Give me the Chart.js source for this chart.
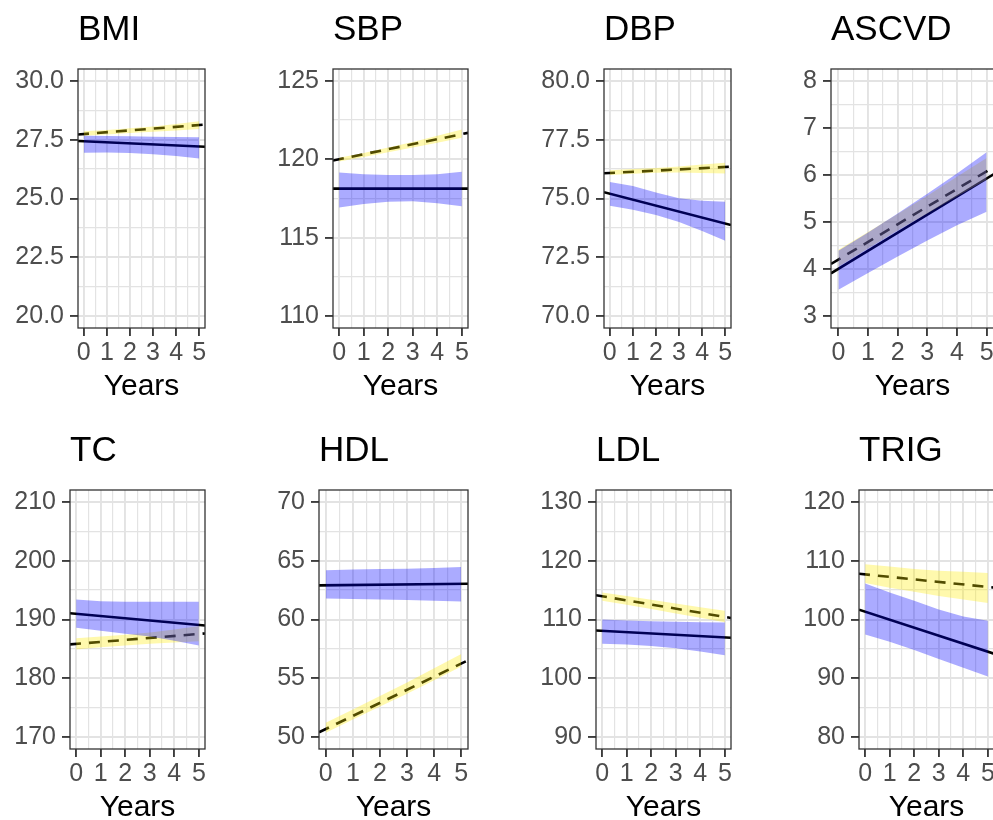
<!DOCTYPE html>
<html>
<head>
<meta charset="utf-8">
<script src="https://cdn.jsdelivr.net/npm/chart.js@4.4.0/dist/chart.umd.min.js"></script>
<style>
  html, body { margin:0; padding:0; background:#fff; }
  #wrap { position:relative; width:993px; height:820px; overflow:hidden; background:#fff; }
  #wrap canvas { position:absolute; }
</style>
</head>
<body>
<div id="wrap"></div>
<script>
// ------------------------------------------------------------
// Data
// ------------------------------------------------------------
const years     = [0, 1, 2, 3, 4, 5];
const xTicks    = [0, 1, 2, 3, 4, 5];
const edgeYears = [-0.25, 5.25];   // fitted lines run edge to edge of the panel

const bmiTicks    = [20, 22.5, 25, 27.5, 30];
const bmiSolid    = [27.44, 27.20];
const bmiDashed   = [27.72, 28.14];
const bmiBlueHi   = [27.66, 27.65, 27.64, 27.62, 27.61, 27.60];
const bmiBlueLo   = [26.94, 26.95, 26.93, 26.88, 26.80, 26.70];
const bmiYellowHi = [27.86, 27.91, 27.98, 28.06, 28.16, 28.28];
const bmiYellowLo = [27.66, 27.72, 27.78, 27.84, 27.89, 27.95];

const sbpTicks    = [110, 115, 120, 125];
const sbpSolid    = [118.13, 118.13];
const sbpDashed   = [119.92, 121.68];
const sbpBlueHi   = [119.15, 119.05, 119.0, 119.0, 119.05, 119.2];
const sbpBlueLo   = [116.93, 117.15, 117.3, 117.32, 117.2, 117.0];
const sbpYellowHi = [120.1, 120.4, 120.75, 121.1, 121.5, 121.9];
const sbpYellowLo = [119.85, 120.15, 120.45, 120.75, 121.05, 121.37];

const dbpTicks    = [70, 72.5, 75, 77.5, 80];
const dbpSolid    = [75.27, 73.87];
const dbpDashed   = [76.07, 76.35];
const dbpBlueHi   = [75.70, 75.53, 75.25, 75.01, 74.90, 74.86];
const dbpBlueLo   = [74.69, 74.52, 74.30, 74.00, 73.62, 73.21];
const dbpYellowHi = [76.20, 76.25, 76.30, 76.36, 76.44, 76.52];
const dbpYellowLo = [76.00, 76.05, 76.09, 76.10, 76.08, 76.06];

const ascvdTicks    = [3, 4, 5, 6, 7, 8];
const ascvdSolid    = [3.91, 6.02];
const ascvdDashed   = [4.11, 6.17];
const ascvdBlueHi   = [4.39, 4.78, 5.18, 5.60, 6.03, 6.48];
const ascvdBlueLo   = [3.56, 3.92, 4.27, 4.61, 4.93, 5.22];
const ascvdYellowHi = [4.41, 4.79, 5.17, 5.56, 5.96, 6.36];
const ascvdYellowLo = [4.05, 4.44, 4.82, 5.18, 5.54, 5.90];

const tcTicks    = [170, 180, 190, 200, 210];
const tcSolid    = [191.07, 188.99];
const tcDashed   = [185.77, 187.63];
const tcBlueHi   = [193.38, 193.1, 193.0, 193.0, 193.0, 193.0];
const tcBlueLo   = [188.6, 188.1, 187.6, 187.1, 186.4, 185.6];
const tcYellowHi = [186.8, 187.1, 187.4, 187.8, 188.3, 188.9];
const tcYellowLo = [184.9, 185.3, 185.6, 185.9, 186.1, 186.3];

const hdlTicks    = [50, 55, 60, 65, 70];
const hdlSolid    = [62.90, 63.04];
const hdlDashed   = [50.42, 56.53];
const hdlBlueHi   = [64.19, 64.25, 64.3, 64.32, 64.38, 64.45];
const hdlBlueLo   = [61.78, 61.74, 61.70, 61.66, 61.6, 61.53];
const hdlYellowHi = [51.23, 52.35, 53.5, 54.65, 55.85, 57.07];
const hdlYellowLo = [50.39, 51.5, 52.6, 53.7, 54.85, 56.0];

const ldlTicks    = [90, 100, 110, 120, 130];
const ldlSolid    = [108.13, 106.89];
const ldlDashed   = [114.13, 110.26];
const ldlBlueHi   = [109.98, 109.85, 109.72, 109.62, 109.55, 109.47];
const ldlBlueLo   = [105.88, 105.75, 105.5, 105.1, 104.55, 103.92];
const ldlYellowHi = [114.58, 114.0, 113.35, 112.7, 112.1, 111.49];
const ldlYellowLo = [113.17, 112.5, 111.8, 111.0, 110.3, 109.53];

const trigTicks    = [80, 90, 100, 110, 120];
const trigSolid    = [101.66, 94.2];
const trigDashed   = [107.77, 105.42];
const trigBlueHi   = [106.1, 104.6, 103.2, 101.7, 100.5, 99.8];
const trigBlueLo   = [97.45, 96.2, 94.8, 93.3, 91.8, 90.3];
const trigYellowHi = [109.4, 109.0, 108.6, 108.3, 108.1, 107.9];
const trigYellowLo = [106.2, 105.4, 104.7, 104.0, 103.4, 102.8];

// ------------------------------------------------------------
// Panels + where they sit on the page
// ------------------------------------------------------------
const panels = [
  { name:'BMI',   ticks:bmiTicks,   dec:1, solid:bmiSolid,   dashed:bmiDashed,   blueHi:bmiBlueHi,   blueLo:bmiBlueLo,   yelHi:bmiYellowHi,   yelLo:bmiYellowLo },
  { name:'SBP',   ticks:sbpTicks,   dec:0, solid:sbpSolid,   dashed:sbpDashed,   blueHi:sbpBlueHi,   blueLo:sbpBlueLo,   yelHi:sbpYellowHi,   yelLo:sbpYellowLo },
  { name:'DBP',   ticks:dbpTicks,   dec:1, solid:dbpSolid,   dashed:dbpDashed,   blueHi:dbpBlueHi,   blueLo:dbpBlueLo,   yelHi:dbpYellowHi,   yelLo:dbpYellowLo },
  { name:'ASCVD', ticks:ascvdTicks, dec:0, solid:ascvdSolid, dashed:ascvdDashed, blueHi:ascvdBlueHi, blueLo:ascvdBlueLo, yelHi:ascvdYellowHi, yelLo:ascvdYellowLo },
  { name:'TC',    ticks:tcTicks,    dec:0, solid:tcSolid,    dashed:tcDashed,    blueHi:tcBlueHi,    blueLo:tcBlueLo,    yelHi:tcYellowHi,    yelLo:tcYellowLo },
  { name:'HDL',   ticks:hdlTicks,   dec:0, solid:hdlSolid,   dashed:hdlDashed,   blueHi:hdlBlueHi,   blueLo:hdlBlueLo,   yelHi:hdlYellowHi,   yelLo:hdlYellowLo },
  { name:'LDL',   ticks:ldlTicks,   dec:0, solid:ldlSolid,   dashed:ldlDashed,   blueHi:ldlBlueHi,   blueLo:ldlBlueLo,   yelHi:ldlYellowHi,   yelLo:ldlYellowLo },
  { name:'TRIG',  ticks:trigTicks,  dec:0, solid:trigSolid,  dashed:trigDashed,  blueHi:trigBlueHi,  blueLo:trigBlueLo,  yelHi:trigYellowHi,  yelLo:trigYellowLo },
];

// left/top of each canvas, axisW = room for the y labels
const layout = [
  { left:0,   top:0,   axisW:78 },
  { left:263, top:0,   axisW:70 },
  { left:526, top:0,   axisW:78 },
  { left:789, top:0,   axisW:42 },
  { left:0,   top:421, axisW:70 },
  { left:263, top:421, axisW:56 },
  { left:526, top:421, axisW:70 },
  { left:789, top:421, axisW:70 },
];

const CANVAS_W = 263, CANVAS_H = 421;
const BLUE   = 'rgba(0,0,255,0.33)';
const YELLOW = 'rgba(255,235,0,0.32)';
const GRID   = '#e3e3e3';
const INK    = '#333333';
const NONE   = 'rgba(0,0,0,0)';

Chart.defaults.font.family = '"Liberation Sans", Arial, Helvetica, sans-serif';

// major breaks plus ggplot-style minor breaks halfway between
function withMinor(major) {
  const out = [];
  major.forEach((v, i) => {
    out.push({ value: v });
    if (i < major.length - 1) out.push({ value: (v + major[i + 1]) / 2, minor: true });
  });
  return out;
}

const pts = (xs, ys) => ys.map((y, i) => ({ x: xs[i], y }));

const panelBorder = {
  id: 'panelBorder',
  afterDatasetsDraw(chart) {
    const a = chart.chartArea, ctx = chart.ctx;
    ctx.save();
    ctx.strokeStyle = INK;
    ctx.lineWidth = 1.3;
    ctx.strokeRect(a.left, a.top, a.right - a.left, a.bottom - a.top);
    ctx.restore();
  }
};

function gridOpts() {
  return {
    color: GRID,
    lineWidth: c => (c.tick && c.tick.minor) ? 1.2 : 1.9,
    drawTicks: true,
    tickLength: 8,
    tickWidth: 1.8,
    tickColor: c => (c.tick && c.tick.minor) ? NONE : INK,
  };
}

function makePanel(p, pos) {
  const canvas = document.createElement('canvas');
  canvas.width = CANVAS_W;
  canvas.height = CANVAS_H;
  canvas.style.left = pos.left + 'px';
  canvas.style.top = pos.top + 'px';
  document.getElementById('wrap').appendChild(canvas);

  const lo = p.ticks[0], hi = p.ticks[p.ticks.length - 1];
  const expand = (hi - lo) * 0.05;
  const ribbon = { borderColor: NONE, borderWidth: 0, pointRadius: 0 };

  new Chart(canvas, {
    type: 'line',
    data: {
      datasets: [
        // first in the list is drawn last -> blue ribbon on top
        { ...ribbon, data: pts(years, p.blueHi), fill: '+1', backgroundColor: BLUE },
        { ...ribbon, data: pts(years, p.blueLo), fill: false },
        { ...ribbon, data: pts(years, p.yelHi), fill: '+1', backgroundColor: YELLOW },
        { ...ribbon, data: pts(years, p.yelLo), fill: false },
        { data: pts(edgeYears, p.solid),  borderColor: '#000', borderWidth: 2.6, pointRadius: 0, fill: false },
        { data: pts(edgeYears, p.dashed), borderColor: '#000', borderWidth: 2.6, borderDash: [11, 8], pointRadius: 0, fill: false },
      ]
    },
    options: {
      responsive: false,
      animation: false,
      events: [],
      layout: { autoPadding: false, padding: { left: 0, right: 58, top: 0, bottom: 16 } },
      plugins: {
        legend: { display: false },
        tooltip: { enabled: false },
        filler: { drawTime: 'beforeDatasetDraw' },
        title: {
          display: true, text: p.name, align: 'start', fullSize: false,
          color: '#000', font: { size: 35, weight: 'normal' },
          padding: { top: 9, bottom: 18 }
        }
      },
      scales: {
        x: {
          type: 'linear', min: edgeYears[0], max: edgeYears[1],
          afterBuildTicks: s => { s.ticks = withMinor(xTicks); },
          afterFit: s => { s.height = 77; },
          ticks: {
            autoSkip: false, maxRotation: 0, minRotation: 0, padding: 2,
            color: '#4d4d4d', font: { size: 25 },
            callback: (v, i, t) => t[i].minor ? '' : String(v)
          },
          grid: gridOpts(),
          border: { display: false },
          title: { display: true, text: 'Years', color: '#000', font: { size: 30 }, padding: 0 }
        },
        y: {
          type: 'linear', min: lo - expand, max: hi + expand,
          afterBuildTicks: s => { s.ticks = withMinor(p.ticks); },
          afterFit: s => { s.width = pos.axisW; },
          ticks: {
            autoSkip: false, padding: 6,
            color: '#4d4d4d', font: { size: 25 },
            callback: (v, i, t) => t[i].minor ? '' : v.toFixed(p.dec)
          },
          grid: gridOpts(),
          border: { display: false }
        }
      }
    },
    plugins: [panelBorder]
  });
}

panels.forEach((p, i) => makePanel(p, layout[i]));
</script>
</body>
</html>
